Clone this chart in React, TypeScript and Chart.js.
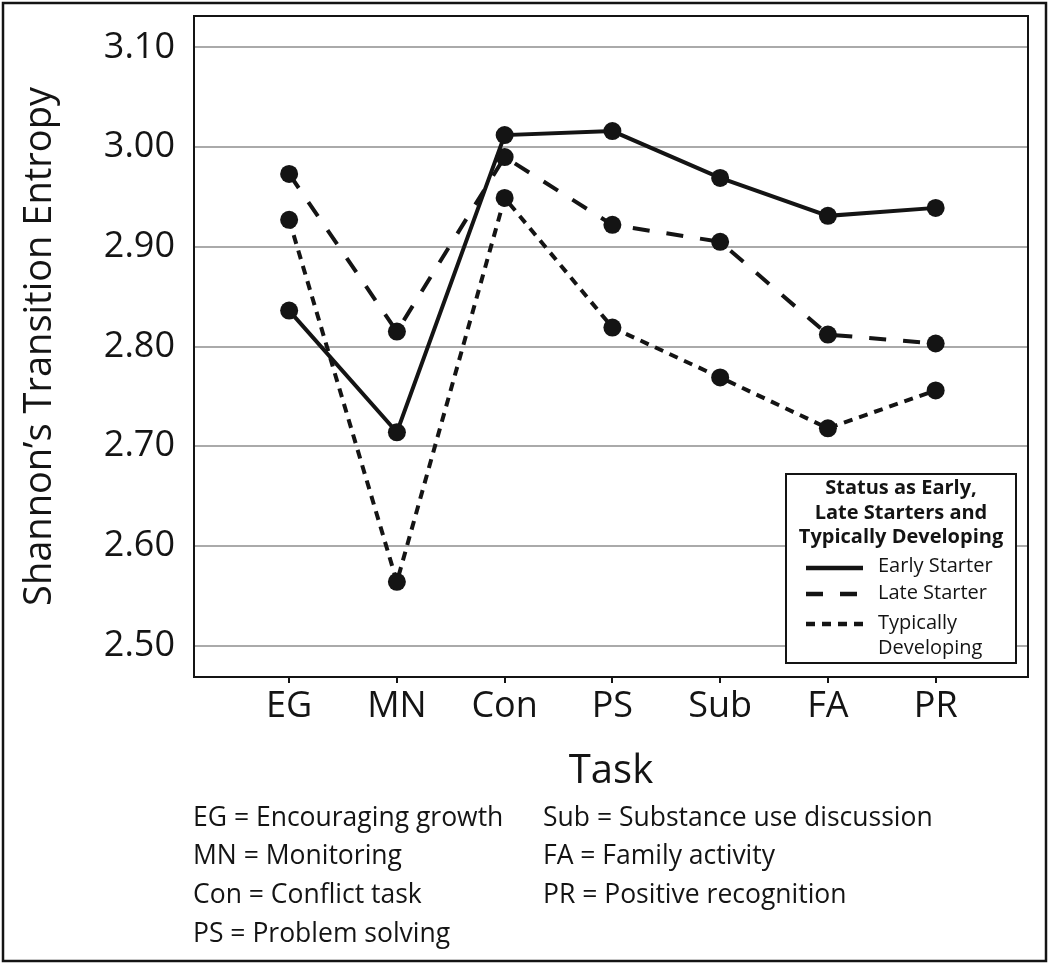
import React, { useEffect, useRef } from 'react';
import { Chart, registerables } from 'chart.js';

Chart.register(...registerables);

const TASKS = ['EG', 'MN', 'Con', 'PS', 'Sub', 'FA', 'PR'];
const EARLY = [2.836, 2.714, 3.012, 3.016, 2.969, 2.931, 2.939];
const LATE = [2.973, 2.815, 2.990, 2.922, 2.905, 2.812, 2.803];
const TYPICAL = [2.927, 2.564, 2.949, 2.819, 2.769, 2.718, 2.756];
const Y_TICKS = [2.5, 2.6, 2.7, 2.8, 2.9, 3.0, 3.1];
const SERIES_NAMES = ['Early Starter', 'Late Starter', 'Typically Developing'];
const LEGEND_TITLE = ['Status as Early,', 'Late Starters and', 'Typically Developing'];
const FOOTNOTE_LEFT = ['EG = Encouraging growth', 'MN = Monitoring', 'Con = Conflict task', 'PS = Problem solving'];
const FOOTNOTE_RIGHT = ['Sub = Substance use discussion', 'FA = Family activity', 'PR = Positive recognition'];
const Y_TITLE = 'Shannon\u2019s Transition Entropy';
const X_TITLE = 'Task';

const FONT = "'Open Sans', 'Noto Sans', sans-serif";
const INK = '#141414';

const decorPlugin = {
  id: 'decor',
  beforeDraw(chart: any) {
    const { ctx, width, height } = chart;
    ctx.save();
    ctx.fillStyle = '#ffffff';
    ctx.fillRect(0, 0, width, height);
    ctx.restore();
  },
  afterDraw(chart: any) {
    const { ctx, chartArea } = chart;
    const { left, right, top, bottom } = chartArea;
    ctx.save();
    // outer figure frame
    ctx.strokeStyle = INK;
    ctx.lineWidth = 2.5;
    ctx.strokeRect(3, 3, 1043, 958);
    // plot frame
    ctx.lineWidth = 2;
    ctx.strokeRect(left, top, right - left, bottom - top);

    // legend box
    const bx = right - 242;
    const by = bottom - 203;
    const bw = 230;
    const bh = 189;
    ctx.fillStyle = '#ffffff';
    ctx.fillRect(bx, by, bw, bh);
    ctx.strokeStyle = INK;
    ctx.lineWidth = 2;
    ctx.strokeRect(bx, by, bw, bh);

    ctx.fillStyle = INK;
    ctx.textAlign = 'center';
    ctx.textBaseline = 'alphabetic';
    ctx.font = `bold 20px ${FONT}`;
    LEGEND_TITLE.forEach((t, i) => {
      ctx.fillText(t, bx + bw / 2, by + 20 + i * 24.5);
    });

    const ds = chart.data.datasets;
    const sampleY = [568, 594, 624].map((v) => v - 474 + by);
    const textBase = [572, 599, 629].map((v) => v - 474 + by);
    ctx.font = `20px ${FONT}`;
    ctx.textAlign = 'left';
    ds.forEach((d: any, i: number) => {
      ctx.beginPath();
      ctx.setLineDash(d.borderDash || []);
      ctx.lineWidth = 4.5;
      ctx.strokeStyle = INK;
      ctx.moveTo(bx + 20, sampleY[i]);
      ctx.lineTo(bx + 77, sampleY[i]);
      ctx.stroke();
      ctx.setLineDash([]);
      const words = SERIES_NAMES[i] === 'Typically Developing' ? ['Typically', 'Developing'] : [SERIES_NAMES[i]];
      words.forEach((w, k) => ctx.fillText(w, bx + 92, textBase[i] + k * 24.5));
    });

    // footnotes
    ctx.font = `26.5px ${FONT}`;
    ctx.textBaseline = 'middle';
    ctx.textAlign = 'left';
    FOOTNOTE_LEFT.forEach((t, i) => ctx.fillText(t, 193, 818 + i * 38.7));
    FOOTNOTE_RIGHT.forEach((t, i) => ctx.fillText(t, 543, 818 + i * 38.7));
    ctx.restore();
  },
};

export default function App() {
  const ref = useRef<HTMLCanvasElement | null>(null);

  useEffect(() => {
    if (!ref.current) return;
    Chart.defaults.font.family = FONT;
    Chart.defaults.color = INK;
    const mk = (vals: number[]) => vals.map((y, i) => ({ x: i, y }));
    const common = {
      borderColor: INK,
      backgroundColor: INK,
      borderWidth: 4,
      pointRadius: 9,
      pointHoverRadius: 9,
      pointBackgroundColor: INK,
      pointBorderWidth: 0,
      tension: 0,
      fill: false,
    };
    const chart = new Chart(ref.current, {
      type: 'line',
      data: {
        datasets: [
          { ...common, label: SERIES_NAMES[0], data: mk(EARLY), borderDash: [] },
          { ...common, label: SERIES_NAMES[1], data: mk(LATE), borderDash: [17, 17] },
          { ...common, label: SERIES_NAMES[2], data: mk(TYPICAL), borderDash: [9, 7] },
        ],
      },
      plugins: [decorPlugin],
      options: {
        animation: false,
        responsive: false,
        events: [],
        layout: { padding: { left: 0, top: 16, right: 22, bottom: 168 } },
        plugins: {
          legend: { display: false },
          tooltip: { enabled: false },
        },
        scales: {
          x: {
            type: 'linear',
            min: -0.883,
            max: 6.857,
            afterBuildTicks: (scale: any) => {
              scale.ticks = TASKS.map((_, i) => ({ value: i }));
            },
            afterFit: (scale: any) => {
              scale.height = 120;
              scale.paddingLeft = 0;
              scale.paddingRight = 0;
            },
            ticks: {
              callback: (v: any) => TASKS[Math.round(Number(v))] ?? '',
              font: { size: 36 },
              padding: 2,
              maxRotation: 0,
              autoSkip: false,
              color: INK,
            },
            grid: {
              drawOnChartArea: false,
              drawTicks: true,
              tickLength: 6,
              color: INK,
              lineWidth: 2,
            },
            border: { display: false },
            title: {
              display: true,
              text: X_TITLE,
              font: { size: 40 },
              padding: { top: 0, bottom: 1 },
              color: INK,
            },
          },
          y: {
            type: 'linear',
            min: 2.4686,
            max: 3.1314,
            afterBuildTicks: (scale: any) => {
              scale.ticks = Y_TICKS.map((v) => ({ value: v }));
            },
            afterFit: (scale: any) => {
              scale.width = 194;
              scale.paddingTop = 0;
              scale.paddingBottom = 0;
            },
            ticks: {
              callback: (v: any) => Number(v).toFixed(2),
              font: { size: 36 },
              padding: 19,
              color: INK,
            },
            grid: {
              drawTicks: false,
              color: '#aaaaaa',
              lineWidth: 2,
            },
            border: { display: false },
            title: {
              display: true,
              text: Y_TITLE,
              font: { size: 38 },
              padding: { top: 17, bottom: 0 },
              color: INK,
            },
          },
        },
      },
    } as any);
    return () => chart.destroy();
  }, []);

  return (
    <div style={{ position: 'absolute', left: 0, top: 0, width: 1050, height: 965, background: '#fff' }}>
      <canvas ref={ref} width={1050} height={965} style={{ width: 1050, height: 965, display: 'block' }} />
    </div>
  );
}
